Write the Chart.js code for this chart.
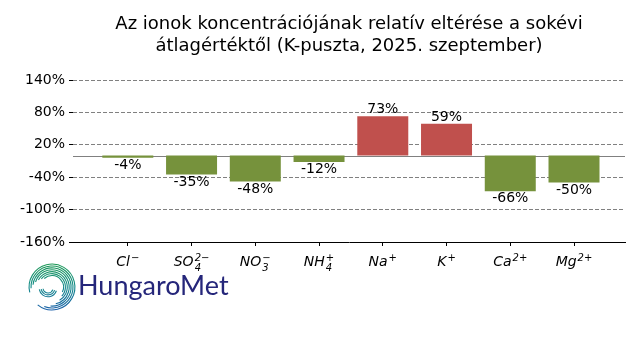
<!DOCTYPE html>
<html>
<head>
<meta charset="utf-8">
<script src="https://cdn.jsdelivr.net/npm/chart.js@4/dist/chart.umd.min.js"></script>
<style>
    html, body { margin: 0; padding: 0; background: #fff; }
    #chart { display: block; }
</style>
</head>
<body>
<canvas id="chart" width="640" height="360"></canvas>
<script>
// ion labels are split into base / subscript / superscript parts
const ionNames = ['Cl', 'SO', 'NO', 'NH', 'Na', 'K', 'Ca', 'Mg'];
const ionSubs = ['', '4', '3', '4', '', '', '', ''];
const ionSups = ['\u2212', '2\u2212', '\u2212', '+', '+', '+', '2+', '2+'];
const deviations = [-4, -35, -48, -12, 73, 59, -66, -50];
const yTicks = [-160, -100, -40, 20, 80, 140];
const titleLines = [
    'Az ionok koncentrációjának relatív eltérése a sokévi',
    'átlagértéktől (K-puszta, 2025. szeptember)',
];

const RED = '#c0504d';
const GREEN = '#76923c';
const FONT = '"DejaVu Sans", sans-serif';

function drawIonLabel(ctx, x, baseline, base, sub, sup) {
    ctx.save();
    ctx.textAlign = 'left';
    ctx.textBaseline = 'alphabetic';
    ctx.fillStyle = '#000';

    ctx.font = `italic 14px ${FONT}`;
    const baseWidth = ctx.measureText(base).width;
    ctx.font = `italic 10px ${FONT}`;
    const scriptWidth = Math.max(ctx.measureText(sub).width, ctx.measureText(sup).width);
    const start = x - (baseWidth + 1 + scriptWidth) / 2;

    ctx.font = `italic 14px ${FONT}`;
    ctx.fillText(base, start, baseline);
    ctx.font = `italic 10px ${FONT}`;
    if (sup) {
        ctx.fillText(sup, start + baseWidth + 1, baseline - 5);
    }
    if (sub) {
        ctx.fillText(sub, start + baseWidth + 1, baseline + 5);
    }
    ctx.restore();
}

// small stand-in for the HungaroMet logo (striped swirl + wordmark)
function drawLogo(ctx) {
    const cx = 52;
    const cy = 287;
    ctx.save();
    const grad = ctx.createLinearGradient(0, cy - 24, 0, cy + 24);
    grad.addColorStop(0, '#1f9a55');
    grad.addColorStop(0.5, '#128a8a');
    grad.addColorStop(1, '#1c5fab');
    ctx.strokeStyle = grad;
    ctx.lineWidth = 1.1;

    for (let r = 11.5; r <= 23; r += 1.9) {
        const k = 23 - r;
        ctx.beginPath();
        ctx.arc(cx, cy, r, Math.PI * (0.92 + k * 0.03), Math.PI * (2.72 - k * 0.05));
        ctx.stroke();
    }
    for (let r = 5; r <= 9; r += 1.9) {
        ctx.beginPath();
        ctx.arc(cx - 4, cy + 1, r, Math.PI * 0.95, Math.PI * 2.1, true);
        ctx.stroke();
    }

    ctx.fillStyle = '#25267a';
    ctx.font = '27px Lato, "Noto Sans", sans-serif';
    ctx.textAlign = 'left';
    ctx.textBaseline = 'alphabetic';
    ctx.fillText('HungaroMet', 78, 295);
    ctx.restore();
}

const decor = {
    id: 'decor',

    beforeDatasetsDraw(chart) {
        const { ctx, chartArea } = chart;
        const y0 = Math.round(chart.scales.y.getPixelForValue(0)) + 0.5;
        ctx.save();
        ctx.strokeStyle = '#808080';
        ctx.lineWidth = 1;
        ctx.beginPath();
        ctx.moveTo(chartArea.left, y0);
        ctx.lineTo(chartArea.right, y0);
        ctx.stroke();
        ctx.restore();
    },

    afterDatasetsDraw(chart) {
        const { ctx } = chart;
        const meta = chart.getDatasetMeta(0);
        ctx.save();
        ctx.font = `14px ${FONT}`;
        ctx.fillStyle = '#000';
        ctx.textAlign = 'center';
        meta.data.forEach((bar, i) => {
            const value = deviations[i];
            if (value >= 0) {
                ctx.textBaseline = 'alphabetic';
                ctx.fillText(`${value}%`, bar.x, bar.y - 3);
            } else {
                ctx.textBaseline = 'top';
                ctx.fillText(`${value}%`, bar.x, bar.y + 0.5);
            }
        });
        ctx.restore();
    },

    afterDraw(chart) {
        const { ctx, chartArea } = chart;
        const xScale = chart.scales.x;

        ionNames.forEach((name, i) => {
            drawIonLabel(ctx, xScale.getPixelForValue(i), chartArea.bottom + 24, name, ionSubs[i], ionSups[i]);
        });

        ctx.save();
        ctx.font = `18px ${FONT}`;
        ctx.fillStyle = '#000';
        ctx.textAlign = 'center';
        ctx.textBaseline = 'alphabetic';
        const titleX = (chartArea.left + chartArea.right) / 2;
        titleLines.forEach((line, i) => ctx.fillText(line, titleX, 29 + i * 22));
        ctx.restore();

        drawLogo(ctx);
    },
};

new Chart(document.getElementById('chart'), {
    type: 'bar',
    data: {
        datasets: [{
            data: deviations.map((value, i) => ({ x: i, y: value })),
            backgroundColor: deviations.map(value => (value >= 0 ? RED : GREEN)),
            borderWidth: 0,
            barPercentage: 0.8,
            categoryPercentage: 1,
        }],
    },
    options: {
        responsive: false,
        animation: false,
        layout: { padding: { left: 0, right: 15, top: 80, bottom: 0 } },
        plugins: {
            legend: { display: false },
            title: { display: false },
            tooltip: { enabled: false },
        },
        scales: {
            x: {
                type: 'linear',
                min: -0.86,
                max: 7.8,
                offset: false,
                afterBuildTicks: axis => { axis.ticks = ionNames.map((name, i) => ({ value: i })); },
                afterFit: scale => { scale.height = 118; },
                ticks: { display: false },
                grid: { offset: false, drawOnChartArea: false, drawTicks: true, tickLength: 4, tickColor: '#000' },
                border: { display: true, color: '#000', width: 1 },
            },
            y: {
                min: -160,
                max: 140,
                afterBuildTicks: axis => { axis.ticks = yTicks.map(value => ({ value })); },
                afterFit: scale => { scale.width = 73; },
                ticks: {
                    callback: value => `${value}%`,
                    color: '#000',
                    font: { family: FONT, size: 14 },
                    padding: 4,
                },
                grid: {
                    color: ctx => (ctx.tick && ctx.tick.value === -160 ? 'rgba(0,0,0,0)' : '#808080'),
                    lineWidth: 1,
                    tickLength: 4,
                    tickColor: '#000',
                },
                border: { display: false, dash: [4, 2] },
            },
        },
    },
    plugins: [decor],
});
</script>
</body>
</html>
